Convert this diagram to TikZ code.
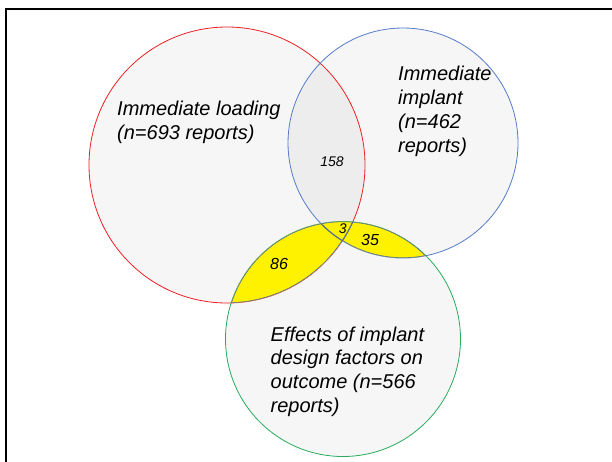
\documentclass[tikz,border=0pt]{standalone}
\usepackage{fontspec}
\setmainfont{Liberation Sans}
\begin{document}
\begin{tikzpicture}[x=1pt,y=-1pt,
  setfill/.style={fill=black,fill opacity=0.035},
  label/.style={font=\fontsize{20}{24}\selectfont\itshape,align=left,anchor=base west,inner sep=0pt},
  count/.style={font=\fontsize{16}{18}\selectfont\itshape,inner sep=0pt},
  smallcount/.style={font=\fontsize{14}{16}\selectfont\itshape,inner sep=0pt}]
\definecolor{setred}{RGB}{238,32,36}
\definecolor{setblue}{RGB}{86,124,200}
\definecolor{setgreen}{RGB}{40,172,92}
\definecolor{lensline}{RGB}{82,108,150}
\useasboundingbox (0,0) rectangle (612,461);
\fill[white] (0,0) rectangle (612,461);

% set centres
\coordinate (cload) at (227,165);
\coordinate (cimpl) at (403,143);
\coordinate (cdes)  at (343,339);

% frame
\draw[line width=2.5pt,black] (6,470) -- (6,9) -- (620,9);

% the three sets
\fill[setfill] (cload) circle (138);
\fill[setfill] (cimpl) circle (115);
\fill[setfill] (cdes) circle (117.5);
\draw[setred,line width=0.8pt] (cload) circle (138);
\draw[setblue,line width=0.8pt] (cimpl) circle (115);
\draw[setgreen,line width=0.8pt] (cdes) circle (117.5);

% highlighted overlaps with the design-factor set
\begin{scope}
  \clip (cdes) circle (117.5);
  \clip (cload) circle (138) (cimpl) circle (115);
  \fill[yellow] (cdes) circle (117.5);
  \draw[lensline,line width=1.2pt] (cdes) circle (117.5);
  \draw[lensline,line width=1.2pt] (cload) circle (138);
  \draw[lensline,line width=1.2pt] (cimpl) circle (115);
\end{scope}

% set labels (anchored at the baseline of their last line)
\node[label] (tload) at (117,139.5) {Immediate loading\\(n=693 reports)};
\node[label] (timpl) at (398,152) {Immediate\\implant\\(n=462\\reports)};
\node[label,font=\fontsize{20}{23.8}\selectfont\itshape] (tdes) at (270.5,412.5) {Effects of implant\\design factors on\\outcome (n=566\\reports)};

% overlap counts
\node[smallcount] (n158) at (332,162) {158};
\node[count] (n86) at (279,263.5) {86};
\node[smallcount] (n3) at (342.7,229) {3};
\node[count] (n35) at (370,239.5) {35};
\end{tikzpicture}
\end{document}
